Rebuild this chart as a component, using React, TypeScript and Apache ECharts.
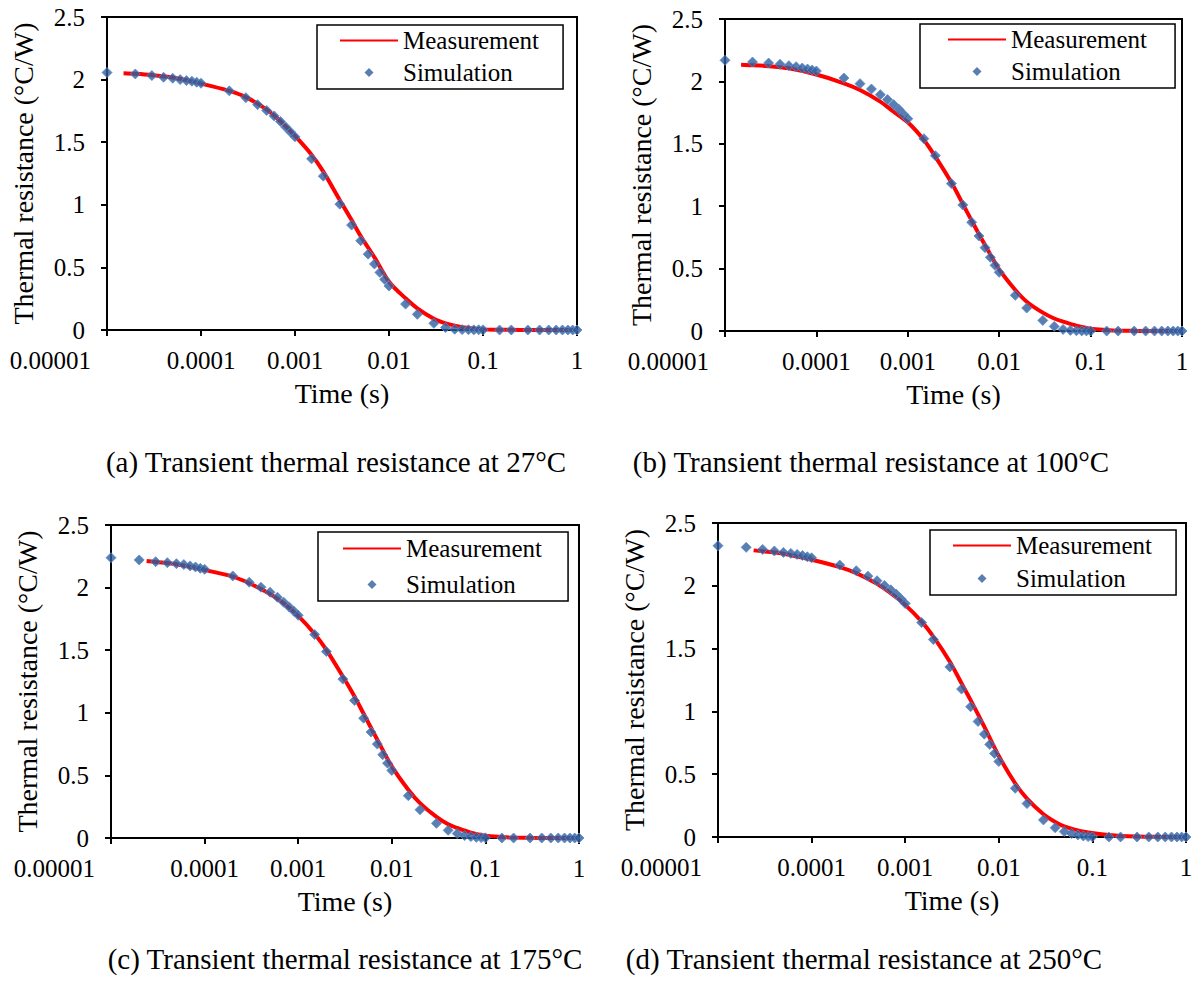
import React, { useEffect, useRef } from 'react';
import * as echarts from 'echarts';

const FONT = "'Liberation Serif', 'Times New Roman', serif";

const xTickLabels = ['0.00001', '0.0001', '0.001', '0.01', '0.1', '1'];

const captions = [
  '(a) Transient thermal resistance at 27°C',
  '(b) Transient thermal resistance at 100°C',
  '(c) Transient thermal resistance at 175°C',
  '(d) Transient thermal resistance at 250°C',
];

// Simulation sample times (s)
const simTime = [
  1e-5, 2e-5, 3e-5, 4e-5, 5e-5, 6e-5, 7e-5, 8e-5, 9e-5, 1e-4,
  2e-4, 3e-4, 4e-4, 5e-4, 6e-4, 7e-4, 8e-4, 9e-4, 1e-3,
  1.5e-3, 2e-3, 3e-3, 4e-3, 5e-3, 6e-3, 7e-3, 8e-3, 9e-3, 1e-2,
  1.5e-2, 2e-2, 3e-2, 4e-2, 5e-2, 6e-2, 7e-2, 8e-2, 9e-2, 0.1,
  0.15, 0.2, 0.3, 0.4, 0.5, 0.6, 0.7, 0.8, 0.9, 1,
];

const simA = [
  2.056, 2.045, 2.032, 2.019, 2.011, 2.0, 1.992, 1.987, 1.979, 1.971,
  1.91, 1.856, 1.8, 1.753, 1.71, 1.665, 1.62, 1.58, 1.543,
  1.367, 1.229, 1.005, 0.838, 0.713, 0.606, 0.527, 0.46, 0.404, 0.351,
  0.207, 0.125, 0.053, 0.019, 0.006, 0.003, 0.002, 0.001, 0.001, 0.001,
  0, 0, 0, 0, 0, 0, 0, 0, 0, 0,
];
const simB = [
  2.169, 2.155, 2.147, 2.137, 2.126, 2.118, 2.107, 2.099, 2.091, 2.083,
  2.027, 1.982, 1.939, 1.894, 1.854, 1.814, 1.776, 1.736, 1.701,
  1.541, 1.405, 1.181, 1.01, 0.871, 0.761, 0.668, 0.59, 0.526, 0.47,
  0.286, 0.184, 0.085, 0.037, 0.013, 0.005, 0.002, 0.001, 0.001, 0,
  0, 0, 0, 0, 0, 0, 0, 0, 0, 0,
];
const simC = [
  2.239, 2.221, 2.207, 2.199, 2.191, 2.184, 2.173, 2.165, 2.154, 2.146,
  2.093, 2.043, 2.003, 1.963, 1.923, 1.883, 1.846, 1.811, 1.779,
  1.625, 1.489, 1.269, 1.098, 0.957, 0.846, 0.75, 0.665, 0.598, 0.54,
  0.338, 0.226, 0.117, 0.061, 0.035, 0.019, 0.011, 0.005, 0.003, 0.001,
  0, 0, 0, 0, 0, 0, 0, 0, 0, 0,
];
const simD = [
  2.319, 2.306, 2.29, 2.277, 2.266, 2.258, 2.25, 2.242, 2.231, 2.223,
  2.165, 2.12, 2.077, 2.04, 2.003, 1.968, 1.934, 1.896, 1.859,
  1.707, 1.572, 1.354, 1.178, 1.037, 0.92, 0.819, 0.737, 0.665, 0.601,
  0.388, 0.266, 0.136, 0.074, 0.043, 0.027, 0.016, 0.008, 0.003, 0.001,
  0, 0, 0, 0, 0, 0, 0, 0, 0, 0,
];

// Measurement curve sample times (s)
const measTimeAB = [
  1.5e-5, 2e-5, 3e-5, 5e-5, 1e-4, 2e-4, 3e-4, 5e-4, 7e-4, 1e-3,
  1.5e-3, 2e-3, 3e-3, 4e-3, 5e-3, 7e-3, 1e-2, 1.5e-2, 2e-2, 3e-2,
  4e-2, 5e-2, 7e-2, 0.1, 0.15, 0.2, 0.3, 0.5, 1,
];
const measTimeCD = [
  2.4e-5, 3e-5, 5e-5, 1e-4, 2e-4, 3e-4, 5e-4, 7e-4, 1e-3,
  1.5e-3, 2e-3, 3e-3, 4e-3, 5e-3, 7e-3, 1e-2, 1.5e-2, 2e-2, 3e-2,
  4e-2, 5e-2, 7e-2, 0.1, 0.15, 0.2, 0.3, 0.5, 1,
];

const measA = [
  2.051, 2.047, 2.037, 2.017, 1.968, 1.91, 1.86, 1.76, 1.667, 1.55,
  1.4, 1.265, 1.037, 0.878, 0.75, 0.58, 0.386, 0.253, 0.173, 0.09,
  0.053, 0.035, 0.016, 0.005, 0.002, 0.001, 0, 0, 0,
];
const measB = [
  2.134, 2.13, 2.122, 2.105, 2.055, 1.985, 1.931, 1.838, 1.757, 1.672,
  1.53, 1.397, 1.189, 1.018, 0.884, 0.689, 0.494, 0.329, 0.235, 0.147,
  0.1, 0.075, 0.043, 0.019, 0.008, 0.003, 0.001, 0, 0,
];
const measC = [
  2.213, 2.205, 2.186, 2.141, 2.088, 2.035, 1.949, 1.875, 1.774,
  1.63, 1.503, 1.29, 1.13, 0.992, 0.785, 0.572, 0.386, 0.279, 0.168,
  0.109, 0.08, 0.043, 0.019, 0.008, 0.003, 0.001, 0, 0,
];
const measD = [
  2.282, 2.275, 2.255, 2.207, 2.149, 2.101, 2.016, 1.941, 1.848,
  1.715, 1.596, 1.396, 1.223, 1.09, 0.878, 0.645, 0.426, 0.306, 0.181,
  0.12, 0.085, 0.053, 0.032, 0.016, 0.008, 0.003, 0.001, 0,
];

const panels = [
  { sim: simA, measT: measTimeAB, meas: measA },
  { sim: simB, measT: measTimeAB, meas: measB },
  { sim: simC, measT: measTimeCD, meas: measC },
  { sim: simD, measT: measTimeCD, meas: measD },
];

// Layout (pixels)
const grids = [
  { left: 107, top: 17, width: 470, height: 313 },
  { left: 725, top: 19, width: 457, height: 312 },
  { left: 111, top: 525, width: 468, height: 313 },
  { left: 718, top: 523, width: 468, height: 314 },
];
const legends = [
  { left: 317, top: 25, padding: [3, 24, 4, 22], itemGap: 7 },
  { left: 920, top: 24, padding: [3, 28, 4, 27], itemGap: 7 },
  { left: 318, top: 532, padding: [4, 26, 4, 24], itemGap: 11 },
  { left: 930, top: 530, padding: [3, 24, 4, 22], itemGap: 8 },
];
const captionPos = [
  { x: 336, y: 462 },
  { x: 871, y: 462 },
  { x: 345, y: 959 },
  { x: 864, y: 959 },
];

// Legend icon: a small diamond centred in a 58x9 box (moveTo points fix the box size)
const DIAMOND_ICON = 'path://M0,0M58,9M29,0L33.5,4.5L29,9L24.5,4.5Z';

export default function App() {
  const ref = useRef<HTMLDivElement>(null);
  useEffect(() => {
    if (!ref.current) return;
    const chart = echarts.init(ref.current, undefined, { renderer: 'svg' });

    const xAxis = grids.map((_, i) => ({
      type: 'log',
      logBase: 10,
      gridIndex: i,
      min: 1e-5,
      max: 1,
      splitNumber: 5,
      name: 'Time (s)',
      nameLocation: 'middle',
      nameGap: 49,
      nameTextStyle: { fontSize: 28, fontFamily: FONT, color: '#000' },
      axisLine: { show: true, onZero: false, lineStyle: { color: '#000', width: 2 } },
      axisTick: { show: true, inside: false, length: 6, lineStyle: { color: '#000', width: 2 } },
      minorTick: { show: false },
      splitLine: { show: false },
      axisLabel: {
        show: true,
        margin: 18,
        fontSize: 25,
        fontFamily: FONT,
        color: '#000',
        showMinLabel: true,
        showMaxLabel: true,
        alignMinLabel: 'right',
        formatter: (v: number) => {
          const idx = Math.round(Math.log10(v)) + 5;
          const s = xTickLabels[idx] ?? '';
          return idx === 0 ? `{first|${s}}` : s;
        },
        rich: {
          first: { padding: [0, 16, 0, 0], fontSize: 25, fontFamily: FONT, color: '#000' },
        },
      },
    }));

    const yAxis = grids.map((_, i) => ({
      type: 'value',
      gridIndex: i,
      min: 0,
      max: 2.5,
      interval: 0.5,
      name: 'Thermal resistance (°C/W)',
      nameLocation: 'middle',
      nameGap: 70,
      nameTextStyle: { fontSize: 28, fontFamily: FONT, color: '#000' },
      axisLine: { show: true, lineStyle: { color: '#000', width: 2 } },
      axisTick: { show: true, inside: false, length: 6, lineStyle: { color: '#000', width: 2 } },
      splitLine: { show: false },
      axisLabel: { margin: 22, fontSize: 25, fontFamily: FONT, color: '#000' },
    }));

    const series: any[] = [];
    panels.forEach((p, i) => {
      series.push({
        name: 'Measurement',
        type: 'line',
        xAxisIndex: i,
        yAxisIndex: i,
        data: p.measT.map((t, k) => [t, p.meas[k]]),
        symbol: 'none',
        smooth: 0.3,
        lineStyle: { color: '#FF0000', width: 4 },
        itemStyle: { color: '#FF0000' },
        z: 2,
      });
      series.push({
        name: 'Simulation',
        type: 'scatter',
        xAxisIndex: i,
        yAxisIndex: i,
        data: simTime.map((t, k) => [t, p.sim[k]]),
        symbol: 'diamond',
        symbolSize: 10,
        itemStyle: { color: '#2F5E9E', borderColor: '#5A8BCB', borderWidth: 1 },
        z: 3,
      });
    });

    const legend = legends.map((l) => ({
      left: l.left,
      top: l.top,
      orient: 'vertical',
      padding: l.padding,
      itemGap: l.itemGap,
      itemWidth: 58,
      itemHeight: 9,
      symbolKeepAspect: true,
      borderColor: '#000',
      borderWidth: 1.5,
      backgroundColor: '#fff',
      selectedMode: false,
      textStyle: { fontSize: 25, fontFamily: FONT, color: '#000' },
      data: [
        { name: 'Measurement', itemStyle: { opacity: 0 } },
        { name: 'Simulation', icon: DIAMOND_ICON, itemStyle: { color: '#2F5E9E', borderWidth: 0 } },
      ],
    }));

    const graphic = captions.map((c, i) => ({
      type: 'text',
      x: captionPos[i].x,
      y: captionPos[i].y,
      style: {
        text: c,
        fontSize: 29,
        fontFamily: FONT,
        fill: '#000',
        align: 'center',
        verticalAlign: 'middle',
        textAlign: 'center',
        textVerticalAlign: 'middle',
      },
    }));

    chart.setOption({
      animation: false,
      backgroundColor: '#fff',
      textStyle: { fontFamily: FONT },
      grid: grids.map((g) => ({ ...g, show: true, borderColor: '#000', borderWidth: 2, backgroundColor: 'transparent', containLabel: false })),
      xAxis,
      yAxis,
      legend,
      series,
      graphic,
    } as any);

    return () => chart.dispose();
  }, []);

  return (
    <div
      ref={ref}
      style={{ position: 'absolute', left: 0, top: 0, width: 1196, height: 983 }}
    />
  );
}
